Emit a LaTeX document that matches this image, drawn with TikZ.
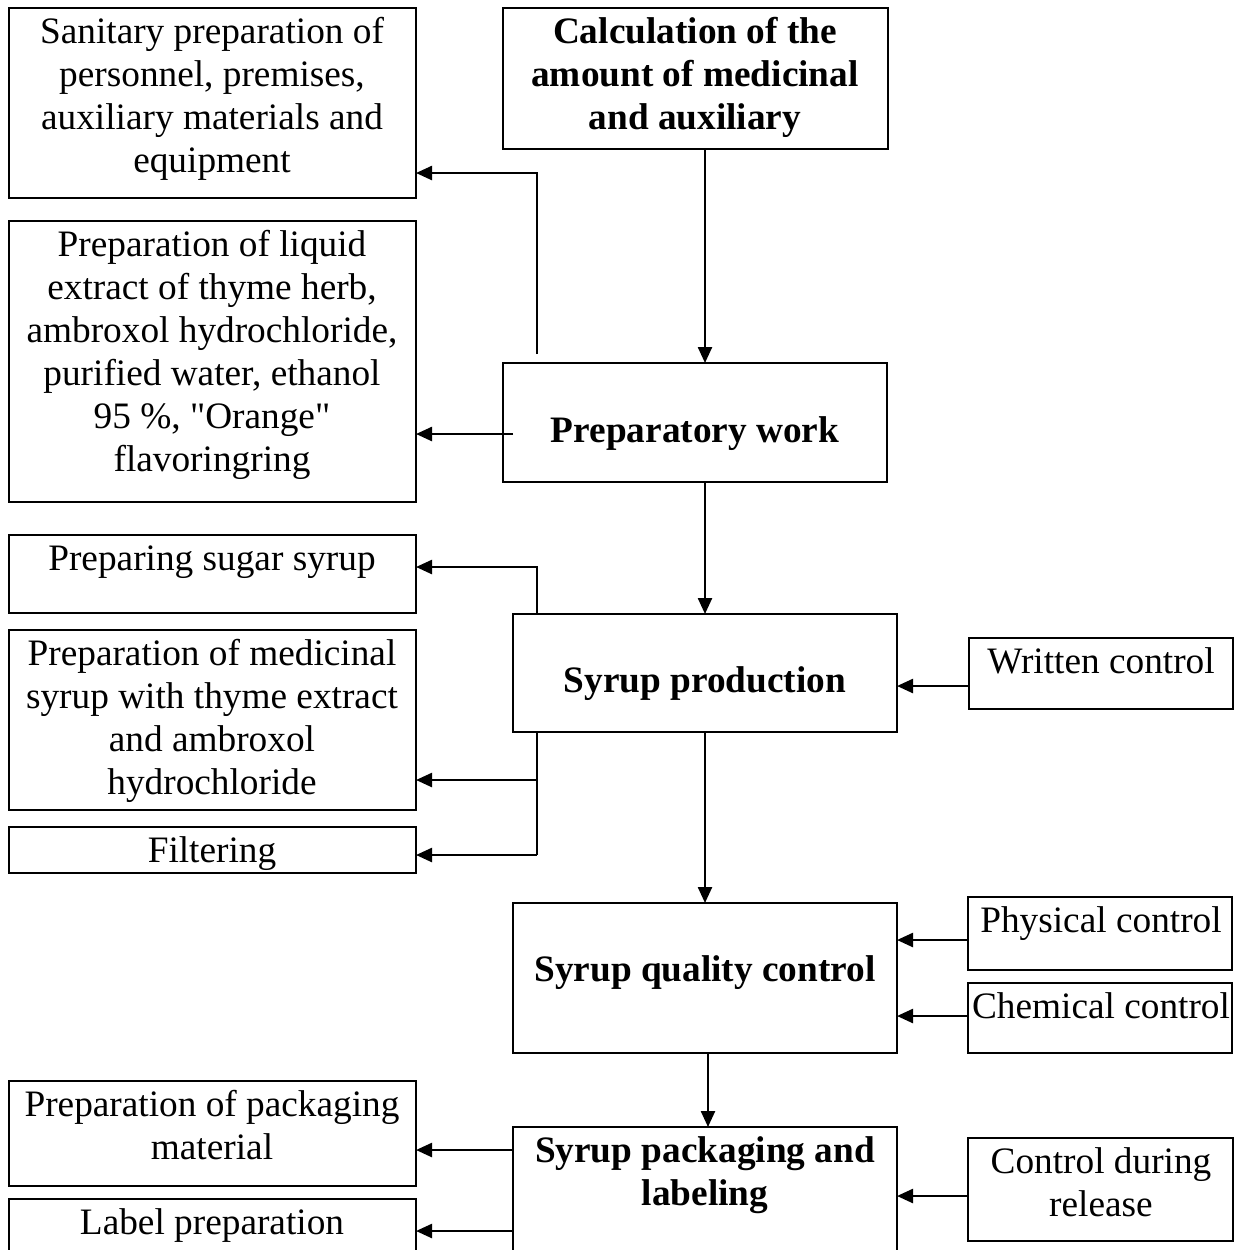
\documentclass[tikz,border=0pt]{standalone}
\usepackage{fontspec}
\setmainfont{Liberation Serif}[Ligatures=TeXOff]
\usetikzlibrary{arrows.meta}
\newlength{\du}
\setlength{\du}{0.5pt}
\tikzset{
  box/.style 2 args={draw, line width=1.2pt, anchor=north west, inner sep=0pt, outer sep=0pt,
    minimum width=#1\du, minimum height=#2\du},
  txt/.style={anchor=base, align=center, inner sep=0pt, font=\fontsize{18.65}{21.5}\selectfont},
  txtb/.style={txt, font=\fontsize{18.65}{21.5}\selectfont\bfseries},
  arr/.style={-{Triangle[length=8pt,width=7pt]}, line width=1.2pt},
}

\begin{document}
\begin{tikzpicture}
\pgftransformxscale{1.000000}
\pgftransformyscale{-1.000000}
\useasboundingbox (0\du,0\du) rectangle (1241\du,1250\du);
\clip (0\du,0\du) rectangle (1241\du,1250\du);
% main chain
\node[box={385}{141}] (calc) at (503\du,8\du) {};
\node[box={384}{119}] (prep) at (503\du,363\du) {};
\node[box={384}{118}] (prod) at (513\du,614\du) {};
\node[box={384}{150}] (qc) at (513\du,903\du) {};
\node[box={384}{150}] (pack) at (513\du,1127\du) {};
% base = last line
\node[txtb] (calctxt) at (695\du,129\du) {Calculation of the\\amount of medicinal\\and auxiliary};
\node[txtb] (preptxt) at (695\du,442\du) {Preparatory work};
\node[txtb] (prodtxt) at (705\du,692\du) {Syrup production};
\node[txtb] (qctxt) at (705\du,981\du) {Syrup quality control};
\node[txtb] (packtxt) at (705\du,1205\du) {Syrup packaging and\\labeling};
% left column
\node[box={407}{190}] (san) at (9\du,8\du) {};
\node[box={407}{281}] (liq) at (9\du,221\du) {};
\node[box={407}{78}] (sugar) at (9\du,535\du) {};
\node[box={407}{180}] (medsyr) at (9\du,630\du) {};
\node[box={407}{46}] (filt) at (9\du,827\du) {};
\node[box={407}{105}] (packmat) at (9\du,1081\du) {};
\node[box={407}{100}] (lbl) at (9\du,1199\du) {};
\node[txt] (santxt) at (212\du,172\du) {Sanitary preparation of\\personnel, premises,\\auxiliary materials and\\equipment};
\node[txt] (liqtxt) at (212\du,471\du) {Preparation of liquid\\extract of thyme herb,\\ambroxol hydrochloride,\\purified water, ethanol\\95 \%, "Orange"\\flavoringring};
\node[txt] (sugartxt) at (212\du,570\du) {Preparing sugar syrup};
\node[txt] (medsyrtxt) at (212\du,794\du) {Preparation of medicinal\\syrup with thyme extract\\and ambroxol\\hydrochloride};
\node[txt] (filttxt) at (212\du,862\du) {Filtering};
\node[txt] (packmattxt) at (212\du,1159\du) {Preparation of packaging\\material};
\node[txt] (lbltxt) at (212\du,1234\du) {Label preparation};
% right column
\node[box={264}{71}] (written) at (969\du,638\du) {};
\node[box={264}{73}] (phys) at (968\du,897\du) {};
\node[box={264}{70}] (chem) at (968\du,983\du) {};
\node[box={265}{103}] (release) at (968\du,1138\du) {};
\node[txt] (writtentxt) at (1101\du,673\du) {Written control};
\node[txt] (phystxt) at (1101\du,932\du) {Physical control};
\node[txt] (chemtxt) at (1101\du,1018\du) {Chemical control};
\node[txt] (releasetxt) at (1101\du,1216\du) {Control during\\release};
% junction points
\coordinate (j1) at (537\du,354\du);
\coordinate (j1a) at (537\du,173\du);
\coordinate (j2) at (513\du,434\du);
\coordinate (j3) at (537\du,567\du);
\coordinate (j4) at (537\du,780\du);
\coordinate (j5) at (537\du,855\du);
\coordinate (j6) at (968\du,686\du);
\coordinate (j7) at (968\du,940\du);
\coordinate (j8) at (968\du,1016\du);
\coordinate (j9) at (513\du,1150\du);
\coordinate (j10) at (513\du,1231\du);
\coordinate (j11) at (968\du,1196\du);
% connectors
\draw[arr] (calc.south -| prod.north) -- (prep.north -| prod.north);
\draw[arr] (prep.south -| prod.north) -- (prod.north);
\draw[arr] (prod.south) -- (qc.north);
\draw[arr] ([xshift=3\du]qc.south) -- ([xshift=3\du]pack.north);
\draw[arr] (j1) -- (j1a) -- (j1a -| san.east);
\draw[arr] (j2) -- (j2 -| liq.east);
\draw[arr] (prod.north -| j3) -- (j3) -- (j3 -| sugar.east);
\draw[line width=1.2pt] (prod.south -| j5) -- (j5);
\draw[arr] (j4) -- (j4 -| medsyr.east);
\draw[arr] (j5) -- (j5 -| filt.east);
\draw[arr] (j6) -- (j6 -| prod.east);
\draw[arr] (j7) -- (j7 -| qc.east);
\draw[arr] (j8) -- (j8 -| qc.east);
\draw[arr] (j9) -- (j9 -| packmat.east);
\draw[arr] (j10) -- (j10 -| lbl.east);
\draw[arr] (j11) -- (j11 -| pack.east);
\end{tikzpicture}
\end{document}
